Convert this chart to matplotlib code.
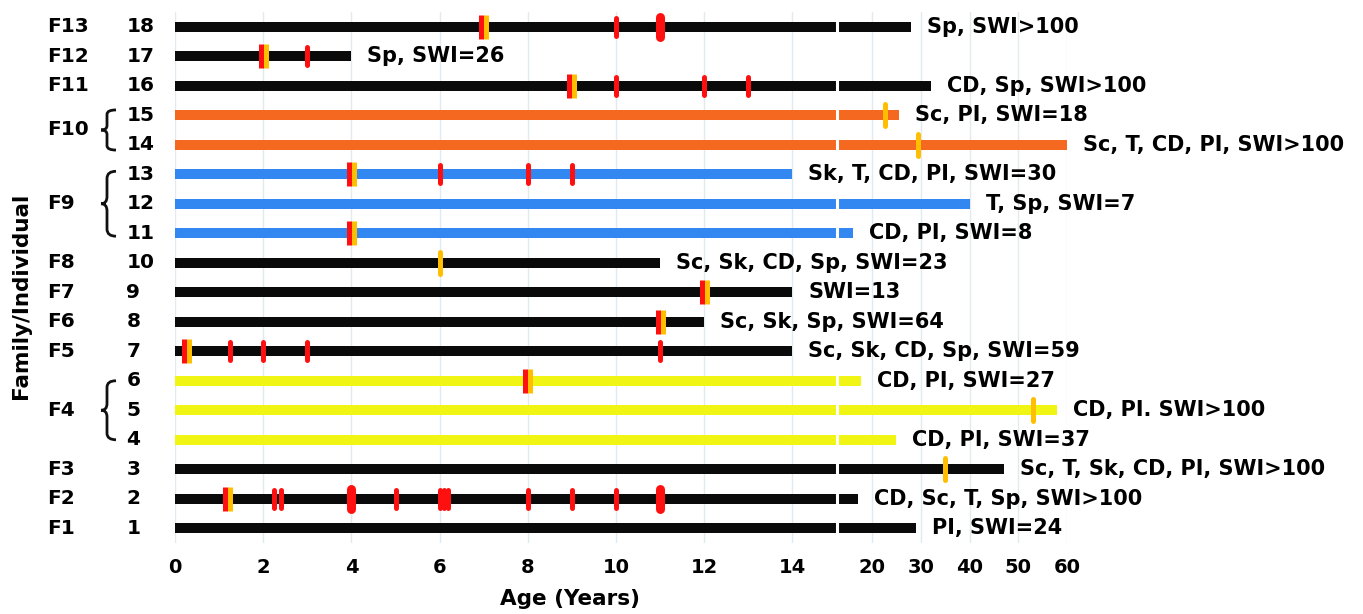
#!/usr/bin/env python3
"""
Timeline of individuals per family: age axis broken at 15 years,
with events marked on each bar and a short note after each bar.
"""

import numpy as np
import matplotlib
matplotlib.use('Agg')
import matplotlib.pyplot as plt
from matplotlib import transforms
from matplotlib.markers import MarkerStyle
from matplotlib.path import Path
from matplotlib.patches import PathPatch

# ==============================
# DATA
# ==============================

individuals = list(range(1, 19))
end_age = [29, 18, 47, 25, 58, 18.5, 14, 12, 14, 11, 17.3, 40, 14, 60, 25.5, 32, 4, 28]
bar_group = ['black', 'black', 'black', 'yellow', 'yellow', 'yellow',
             'black', 'black', 'black', 'black', 'blue', 'blue', 'blue',
             'orange', 'orange', 'black', 'black', 'black']
notes = ["PI, SWI=24", "CD, Sc, T, Sp, SWI>100", "Sc, T, Sk, CD, PI, SWI>100",
         "CD, PI, SWI=37", "CD, PI. SWI>100", "CD, PI, SWI=27",
         "Sc, Sk, CD, Sp, SWI=59", "Sc, Sk, Sp, SWI=64", "SWI=13",
         "Sc, Sk, CD, Sp, SWI=23", "CD, PI, SWI=8", "T, Sp, SWI=7",
         "Sk, T, CD, PI, SWI=30", "Sc, T, CD, PI, SWI>100", "Sc, PI, SWI=18",
         "CD, Sp, SWI>100", "Sp, SWI=26", "Sp, SWI>100"]

families = ["F1", "F2", "F3", "F4", "F5", "F6", "F7", "F8", "F9", "F10", "F11", "F12", "F13"]
family_row = [1, 2, 3, 5, 7, 8, 9, 10, 12, 14.5, 16, 17, 18]
# families with several individuals get a brace: (centre row, half span in rows)
brace_centre = [5, 12, 14.5]
brace_half = [1.0, 1.1, 0.68]

# red + yellow pair of events
pair_row = [18, 17, 16, 13, 11, 9, 8, 7, 6, 2]
pair_age = [7, 2, 9, 4, 4, 12, 11, 0.25, 8, 1.2]
# single red events
red_row = [18, 17, 16, 16, 16, 13, 13, 13, 7, 7, 7, 7,
           2, 2, 2, 2, 2, 2, 2, 2, 2]
red_age = [10, 3, 10, 12, 13, 6, 8, 9, 1.25, 2, 3, 11,
           2.25, 2.4, 5, 6.0, 6.1, 6.2, 8, 9, 10]
# large red events
big_row = [18, 2, 2]
big_age = [11, 4, 11]
# single yellow events
gold_row = [15, 14, 10, 5, 3]
gold_age = [22.7, 29.5, 6, 53, 35]

x_ticks = [0, 2, 4, 6, 8, 10, 12, 14, 20, 30, 40, 50, 60]

COLORS = {'black': '#0a0a0a', 'yellow': '#f0f514', 'blue': '#3287f0', 'orange': '#f4691f'}
RED = '#ff1010'
GOLD = '#ffbf00'

# ==============================
# BROKEN AGE SCALE (0-15 linear, then compressed)
# ==============================

MID = 0.161
RIGHT = 0.11054


def fwd(v):
    v = np.asarray(v, dtype=float)
    return np.where(v <= 15, v, np.where(v <= 20, 15 + (v - 15) * MID,
                                         15.805 + (v - 20) * RIGHT))


def inv(u):
    u = np.asarray(u, dtype=float)
    return np.where(u <= 15, u, np.where(u <= 15.805, 15 + (u - 15) / MID,
                                         20 + (u - 15.805) / RIGHT))


# ==============================
# FIGURE
# ==============================

W, H = 1363, 614
fig = plt.figure(figsize=(W / 100, H / 100), dpi=100)
ax = fig.add_axes([175 / W, 1 - 543 / H, 892 / W, 531 / H])
ax.set_xscale('function', functions=(fwd, inv))
ax.set_xlim(0, 60)
ax.set_ylim(0.5, 18.5)

ax.barh(individuals, end_age, left=0, height=0.33,
        color=[COLORS[g] for g in bar_group], zorder=2)
ax.axvline(15, color='white', lw=2.2, zorder=3)

# event markers
round_bar = MarkerStyle('|', capstyle='round')
left_shift = transforms.offset_copy(ax.transData, fig=fig, x=-2.5, y=0, units='dots')
right_shift = transforms.offset_copy(ax.transData, fig=fig, x=2.5, y=0, units='dots')
ax.plot(pair_age, pair_row, ls='none', marker='|', ms=17, mew=3.6,
        color=RED, transform=left_shift, zorder=4)
ax.plot(pair_age, pair_row, ls='none', marker='|', ms=17, mew=3.6,
        color=GOLD, transform=right_shift, zorder=4)
ax.plot(red_age, red_row, ls='none', marker=round_bar, ms=13.5, mew=3.6, color=RED, zorder=4)
ax.plot(big_age, big_row, ls='none', marker=round_bar, ms=15, mew=6.5, color=RED, zorder=4)
ax.plot(gold_age, gold_row, ls='none', marker=round_bar, ms=16, mew=3.6, color=GOLD, zorder=4)

# notes after each bar
for r, a, txt in zip(individuals, end_age, notes):
    ax.annotate(txt, xy=(a, r), xytext=(16, 0), textcoords='offset pixels',
                ha='left', va='center', fontsize=15, fontweight='bold',
                annotation_clip=False)

# axes styling
for s in ax.spines.values():
    s.set_visible(False)
ax.set_axisbelow(True)
ax.grid(axis='x', color='#e3eaee', lw=1)
ax.set_xticks(x_ticks)
ax.set_xticklabels([str(t) for t in x_ticks], fontsize=14, fontweight='bold')
ax.set_yticks(individuals)
ax.set_yticklabels([str(i) for i in individuals], fontsize=14.5,
                   fontweight='bold', ha='left', va='center')
ax.tick_params(axis='x', length=0, pad=11)
ax.tick_params(axis='y', length=0, pad=35)
ax.minorticks_off()

# family labels and braces
fam_tr = transforms.blended_transform_factory(fig.transFigure, ax.transData)
for f, r in zip(families, family_row):
    ax.text(47 / W, r, f, transform=fam_tr, ha='left', va='center',
            fontsize=14.5, fontweight='bold', clip_on=False)

tip, stem, end = 101 / W, 107 / W, 116 / W
for c, h in zip(brace_centre, brace_half):
    d = h * 0.22
    verts = [(end, c + h), (stem, c + h), (stem, c + h - d),
             (stem, c + d),
             (stem, c), (tip, c), (tip, c),
             (stem, c), (stem, c - d),
             (stem, c - h + d),
             (stem, c - h), (end, c - h)]
    codes = [Path.MOVETO, Path.CURVE3, Path.CURVE3,
             Path.LINETO,
             Path.CURVE3, Path.CURVE3, Path.MOVETO,
             Path.CURVE3, Path.CURVE3,
             Path.LINETO,
             Path.CURVE3, Path.CURVE3]
    ax.add_patch(PathPatch(Path(verts, codes), transform=fam_tr, fill=False,
                           lw=2.0, edgecolor='#111111', clip_on=False))

fig.text(570 / W, 1 - 599 / H, "Age (Years)", ha='center', va='center',
         fontsize=15.5, fontweight='bold')
fig.text(21 / W, 1 - 296 / H, "Family/Individual", rotation=90,
         ha='center', va='center', fontsize=15.5, fontweight='bold')

fig.savefig("out.png", dpi=100)
print("Done.")
